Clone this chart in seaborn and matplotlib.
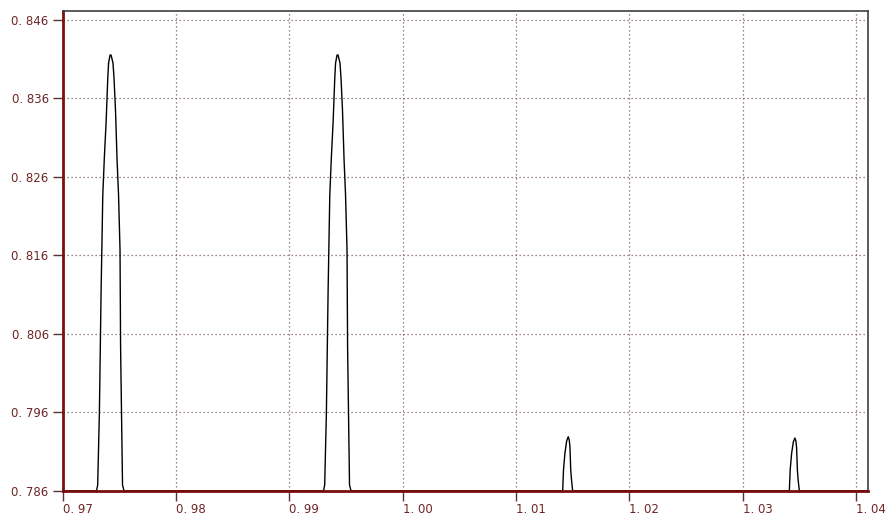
import numpy as np
import pandas as pd
import matplotlib
matplotlib.use("Agg")
import matplotlib.pyplot as plt
import seaborn as sns

# peak vertices
peak1_x = [0.97300, 0.97310, 0.97325, 0.97340, 0.97355, 0.97369, 0.97384, 0.97399, 0.97406, 0.97419, 0.97428,
           0.97445, 0.97454, 0.97467, 0.97481, 0.97494, 0.97507, 0.97512, 0.97520, 0.97529, 0.97542]
peak2_x = [0.99302, 0.99312, 0.99327, 0.99342, 0.99357, 0.99371, 0.99386, 0.99401, 0.99408, 0.99421, 0.99430,
           0.99447, 0.99456, 0.99469, 0.99483, 0.99496, 0.99509, 0.99514, 0.99522, 0.99531, 0.99544]
big_y = [0.7860, 0.78673, 0.79591, 0.81133, 0.82369, 0.82854, 0.83287, 0.83861, 0.84052, 0.84154, 0.84154,
         0.84052, 0.83861, 0.83453, 0.82815, 0.82369, 0.81668, 0.80432, 0.79603, 0.78673, 0.7860]

peak3_x = [1.01411, 1.01418, 1.01431, 1.01446, 1.01460, 1.01469, 1.01475, 1.01482, 1.01489, 1.01499]
peak3_y = [0.7860, 0.78864, 0.79081, 0.79234, 0.79288, 0.79246, 0.79157, 0.78864, 0.78736, 0.7860]
peak4_x = [1.03410, 1.03417, 1.03430, 1.03445, 1.03459, 1.03468, 1.03474, 1.03481, 1.03488, 1.03498]
peak4_y = [0.7860, 0.78860, 0.79075, 0.79222, 0.79272, 0.79232, 0.79145, 0.78860, 0.78730, 0.7860]

x_ticks = [0.97, 0.98, 0.99, 1.00, 1.01, 1.02, 1.03, 1.04]
x_labels = ["0. 97", "0. 98", "0. 99", "1. 00", "1. 01", "1. 02", "1. 03", "1. 04"]
y_ticks = [0.786, 0.796, 0.806, 0.816, 0.826, 0.836, 0.846]
y_labels = ["0. 786", "0. 796", "0. 806", "0. 816", "0. 826", "0. 836", "0. 846"]

baseline = 0.786
xs = [0.97] + peak1_x + peak2_x + peak3_x + peak4_x + [1.0415]
ys = [baseline] + big_y + big_y + peak3_y + peak4_y + [baseline]
df = pd.DataFrame({"x": xs, "y": ys})

sns.set_style("white")
plt.rcParams["font.family"] = ["DejaVu Sans"]

maroon = "#7a0f0f"
label_col = "#6e2626"

fig = plt.figure(figsize=(8.87, 5.18), dpi=100)
ax = fig.add_axes([0.0705, 0.0527, 0.908, 0.926])

sns.lineplot(data=df, x="x", y="y", estimator=None, sort=False, color="black", linewidth=1.0, ax=ax)

ax.set_xlim(0.97, 1.04103)
ax.set_ylim(0.786, 0.84715)
ax.set_xticks(x_ticks)
ax.set_xticklabels(x_labels, ha="left")
ax.set_yticks(y_ticks)
ax.set_yticklabels(y_labels)
ax.set_xlabel("")
ax.set_ylabel("")

ax.grid(True, color="#7d5c5c", linestyle=(0, (1, 2.2)), linewidth=0.9)
ax.set_axisbelow(True)

for side in ["left", "bottom"]:
    ax.spines[side].set_color(maroon)
    ax.spines[side].set_linewidth(2.0)
for side in ["top", "right"]:
    ax.spines[side].set_color("#404040")
    ax.spines[side].set_linewidth(1.2)

ax.tick_params(axis="both", direction="out", length=7, width=1, color="#5a3030",
               labelsize=8.5, labelcolor=label_col, left=True, bottom=True)
ax.tick_params(axis="x", pad=2)
ax.tick_params(axis="y", pad=3)

plt.savefig("out.png", dpi=100)
